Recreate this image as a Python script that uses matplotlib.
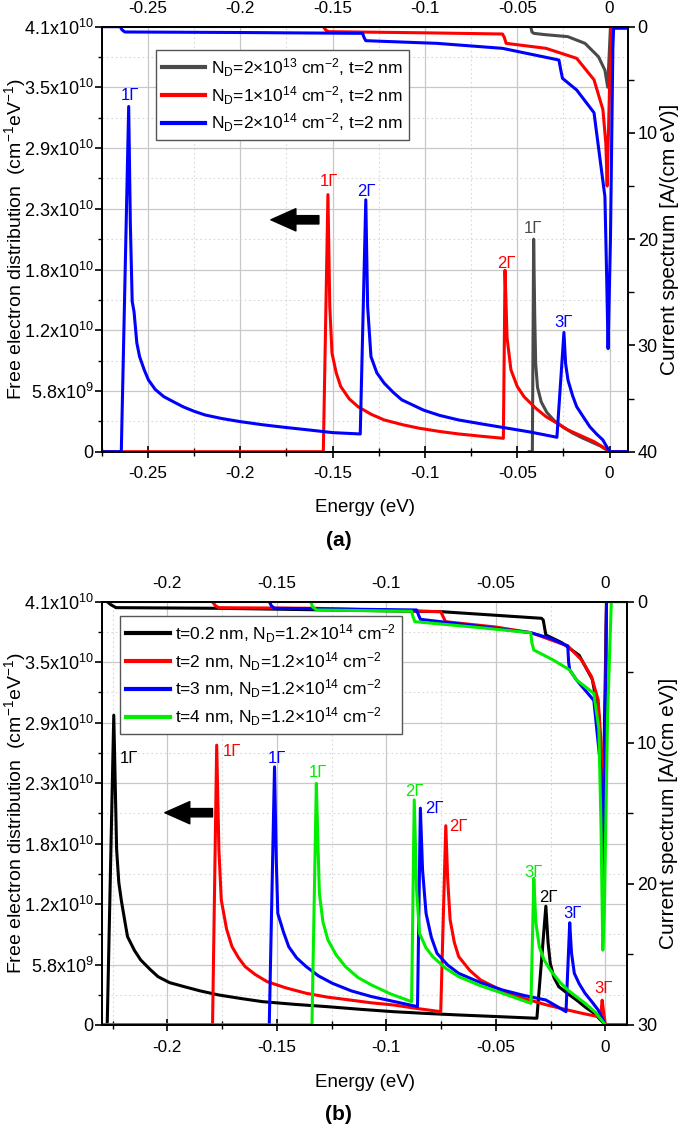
import numpy as np
import matplotlib
matplotlib.use('Agg')
import matplotlib.pyplot as plt
from matplotlib.ticker import MultipleLocator, FuncFormatter, FixedLocator

plt.rcParams['font.family'] = ['Liberation Sans', 'DejaVu Sans']
plt.rcParams['mathtext.fontset'] = 'custom'
plt.rcParams['mathtext.rm'] = 'Liberation Sans'
plt.rcParams['mathtext.it'] = 'Liberation Sans:italic'
plt.rcParams['axes.unicode_minus'] = False

# ---- panel (a): free electron distribution (units of 1e10 cm^-1 eV^-1) ----
a_gray_E = [-0.0435, -0.0418, -0.0411, -0.0405, -0.0400, -0.0390, -0.0370, -0.0340, -0.0300,
            -0.0250, -0.0200, -0.0150, -0.0100, -0.0050, 0.0, 0.01]
a_gray_n = [0, 0, 2.05, 1.3, 0.85, 0.62, 0.48, 0.38, 0.30, 0.235, 0.18, 0.135, 0.095, 0.055, 0, 0]

a_red_E = [-0.2750, -0.1550, -0.1525, -0.1515, -0.1503, -0.1480, -0.1456, -0.1410, -0.1362, -0.1290,
           -0.1220, -0.1120, -0.1030, -0.0920, -0.0817, -0.0700, -0.0575, -0.0566, -0.0555, -0.0534,
           -0.0500, -0.0463, -0.0400, -0.0344, -0.0280, -0.0225, -0.0150, -0.0084, -0.0040, 0.0, 0.01]
a_red_n = [0, 0, 2.48, 1.4, 0.95, 0.76, 0.63, 0.51, 0.434, 0.36,
           0.306, 0.26, 0.226, 0.195, 0.171, 0.15, 0.129, 1.75, 1.1, 0.79,
           0.63, 0.53, 0.42, 0.338, 0.27, 0.21, 0.15, 0.097, 0.05, 0, 0]

a_blue_E = [-0.2750, -0.2644, -0.2604, -0.2595, -0.2585, -0.2575, -0.2560, -0.2545, -0.2520, -0.2497,
            -0.2460, -0.2414, -0.2360, -0.2308, -0.2250, -0.2190, -0.2100, -0.2000, -0.1880, -0.1760,
            -0.1630, -0.1500, -0.1350, -0.1320, -0.1310, -0.1292, -0.1260, -0.1220, -0.1170, -0.1125,
            -0.1006, -0.0920, -0.0817, -0.0700, -0.0582, -0.0430, -0.0285, -0.0247, -0.0238, -0.0225,
            -0.0200, -0.0178, -0.0140, -0.0107, -0.0070, -0.0036, 0.0, 0.01]
a_blue_n = [0, 0, 3.33, 2.2, 1.45, 1.35, 1.05, 0.917, 0.79, 0.692,
            0.60, 0.531, 0.48, 0.432, 0.39, 0.354, 0.32, 0.29, 0.26, 0.235,
            0.21, 0.184, 0.171, 2.43, 1.4, 0.917, 0.76, 0.66, 0.57, 0.50,
            0.40, 0.35, 0.306, 0.27, 0.235, 0.19, 0.139, 1.15, 0.85, 0.69,
            0.54, 0.434, 0.33, 0.241, 0.17, 0.113, 0, 0]

# ---- panel (a): current spectrum (A/(cm eV)) ----
a_gray_cE = [-0.0427, -0.0420, -0.0410, -0.0350, -0.0226, -0.0133, -0.0060, -0.0025, -0.0010, 0.0005]
a_gray_c = [0, 0.5, 0.63, 0.75, 0.94, 1.57, 2.83, 4.1, 5.7, 0]

a_red_cE = [-0.1550, -0.1535, -0.1520, -0.1000, -0.0580, -0.0570, -0.0560, -0.0344, -0.0178, -0.0084,
            -0.0036, -0.0020, -0.0013, 0.0008]
a_red_c = [0, 0.35, 0.47, 0.58, 0.69, 1.0, 1.57, 2.04, 2.98, 5.0, 7.8, 11.0, 15.0, 0]

a_blue_cE = [-0.2750, -0.2650, -0.2640, -0.2625, -0.2000, -0.1337, -0.1330, -0.1320, -0.0935, -0.0580,
             -0.0274, -0.0265, -0.0255, -0.0178, -0.0084, -0.0073, -0.0025, -0.0015, -0.0008, 0.0005,
             0.0018, 0.0022, 0.0100]
a_blue_c = [0, 0, 0.3, 0.5, 0.55, 0.63, 1.0, 1.32, 1.57, 2.04,
            3.14, 4.0, 4.86, 5.96, 8.1, 9.6, 16.0, 24.0, 30.3, 20.0,
            2.0, 0.15, 0.15]

a_labels = ['N$_\\mathrm{D}$=2×10$^{13}$ cm$^{-2}$, t=2 nm',
            'N$_\\mathrm{D}$=1×10$^{14}$ cm$^{-2}$, t=2 nm',
            'N$_\\mathrm{D}$=2×10$^{14}$ cm$^{-2}$, t=2 nm']
a_peaks = [('1Γ', -0.2597, 3.44, 'blue'), ('1Γ', -0.1522, 2.61, 'red'), ('2Γ', -0.1319, 2.51, 'blue'),
           ('1Γ', -0.0414, 2.15, 'gray'), ('2Γ', -0.0556, 1.82, 'red'), ('3Γ', -0.0249, 1.245, 'blue')]

# ---- panel (b): free electron distribution ----
b_black_E = [-0.2300, -0.2275, -0.2245, -0.2232, -0.2222, -0.2210, -0.2190, -0.2182, -0.2150, -0.2122,
             -0.2080, -0.2043, -0.1990, -0.1923, -0.1850, -0.1764, -0.1660, -0.1566, -0.1420, -0.1267,
             -0.1120, -0.0969, -0.0820, -0.0670, -0.0500, -0.0313, -0.0272, -0.0262, -0.0252, -0.0235,
             -0.0213, -0.0170, -0.0132, -0.0090, -0.0053, 0.0, 0.01]
b_black_n = [0, 0, 3.0, 1.7, 1.38, 1.2, 0.95, 0.855, 0.72, 0.63,
             0.54, 0.468, 0.41, 0.371, 0.33, 0.29, 0.255, 0.226, 0.20, 0.177,
             0.152, 0.129, 0.112, 0.097, 0.082, 0.065, 1.15, 0.8, 0.598, 0.46,
             0.371, 0.30, 0.242, 0.17, 0.116, 0, 0]

b_red_E = [-0.2300, -0.1794, -0.1775, -0.1765, -0.1754, -0.1730, -0.1705, -0.1675, -0.1645, -0.1600,
           -0.1545, -0.1460, -0.1366, -0.1270, -0.1167, -0.1070, -0.0969, -0.0860, -0.0752, -0.0729,
           -0.0720, -0.0709, -0.0690, -0.0670, -0.0620, -0.0570, -0.0470, -0.0372, -0.0270, -0.0172,
           -0.0100, -0.0033, -0.0022, -0.0015, -0.0008, 0.0, 0.01]
b_red_n = [0, 0, 2.71, 1.7, 1.21, 0.93, 0.758, 0.65, 0.565, 0.49,
           0.42, 0.36, 0.307, 0.27, 0.242, 0.215, 0.194, 0.16, 0.129, 1.93,
           1.4, 1.017, 0.80, 0.662, 0.53, 0.436, 0.33, 0.258, 0.195, 0.145,
           0.11, 0.081, 0.075, 0.24, 0.12, 0, 0]

b_blue_E = [-0.2300, -0.1535, -0.1511, -0.1503, -0.1496, -0.1470, -0.1446, -0.1410, -0.1366, -0.1310,
            -0.1247, -0.1160, -0.1068, -0.0960, -0.0858, -0.0845, -0.0835, -0.0819, -0.0795, -0.0769,
            -0.0720, -0.0670, -0.0570, -0.0470, -0.0370, -0.0272, -0.0180, -0.0163, -0.0155, -0.0142,
            -0.0120, -0.0093, -0.0060, -0.0033, 0.0, 0.01]
b_blue_n = [0, 0, 2.50, 1.6, 1.08, 0.90, 0.758, 0.65, 0.565, 0.475,
            0.404, 0.33, 0.275, 0.225, 0.178, 2.10, 1.5, 1.08, 0.85, 0.694,
            0.58, 0.5, 0.41, 0.339, 0.285, 0.242, 0.129, 0.99, 0.7, 0.5,
            0.40, 0.307, 0.22, 0.145, 0, 0]

b_green_E = [-0.2300, -0.1340, -0.1320, -0.1312, -0.1306, -0.1290, -0.1267, -0.1230, -0.1187, -0.1130,
             -0.1068, -0.0980, -0.0885, -0.0873, -0.0862, -0.0849, -0.0820, -0.0789, -0.0730, -0.0670,
             -0.0570, -0.0470, -0.0340, -0.0327, -0.0318, -0.0302, -0.0280, -0.0252, -0.0210, -0.0172,
             -0.0130, -0.0093, -0.0045, 0.0, 0.01]
b_green_n = [0, 0, 2.34, 1.7, 1.275, 1.0, 0.823, 0.68, 0.565, 0.46,
             0.387, 0.30, 0.226, 2.18, 1.3, 0.888, 0.75, 0.662, 0.55, 0.468,
             0.38, 0.307, 0.21, 1.42, 1.0, 0.758, 0.63, 0.533, 0.42, 0.339,
             0.27, 0.21, 0.12, 0, 0]

# ---- panel (b): current spectrum ----
b_black_cE = [-0.2275, -0.2260, -0.2235, -0.1772, -0.0750, -0.0292, -0.0284, -0.0272, -0.0200, -0.0120,
              -0.0060, -0.0030, -0.0010, 0.0005]
b_black_c = [0, 0.2, 0.425, 0.47, 0.71, 1.18, 1.3, 2.36, 2.9, 3.8, 5.5, 8.0, 14.0, 0]

b_red_cE = [-0.1795, -0.1780, -0.1765, -0.1327, -0.0752, -0.0740, -0.0730, -0.0500, -0.0340, -0.0172,
            -0.0109, -0.0064, -0.0033, -0.0020, -0.0010, -0.0005, 0.0005]
b_red_c = [0, 0.3, 0.43, 0.47, 0.71, 1.1, 1.42, 1.8, 2.2, 3.14, 4.13, 5.3, 6.97, 10.0, 14.0, 16.2, 0]

b_blue_cE = [-0.1535, -0.1525, -0.1511, -0.0862, -0.0852, -0.0845, -0.0600, -0.0341, -0.0252, -0.0172,
             -0.0168, -0.0163, -0.0132, -0.0053, -0.0020, -0.0008, 0.0005]
b_blue_c = [0, 0.3, 0.47, 0.59, 1.0, 1.25, 1.7, 2.2, 2.6, 3.14, 4.3, 4.84, 5.55, 7.0, 12.0, 20.0, 0]

b_green_cE = [-0.1345, -0.1338, -0.1320, -0.0885, -0.0878, -0.0870, -0.0600, -0.0341, -0.0336, -0.0327,
              -0.0239, -0.0163, -0.0132, -0.0053, -0.0030, -0.0020, -0.0012, -0.0005, 0.0010, 0.0027, 0.0100]
b_green_c = [0, 0.35, 0.59, 0.68, 1.1, 1.42, 1.8, 2.2, 2.9, 3.43,
             4.13, 4.84, 5.55, 6.5, 9.0, 16.0, 24.7, 22.0, 8.0, 0, 0]

b_labels = ['t=0.2 nm, N$_\\mathrm{D}$=1.2×10$^{14}$ cm$^{-2}$',
            't=2 nm, N$_\\mathrm{D}$=1.2×10$^{14}$ cm$^{-2}$',
            't=3 nm, N$_\\mathrm{D}$=1.2×10$^{14}$ cm$^{-2}$',
            't=4 nm, N$_\\mathrm{D}$=1.2×10$^{14}$ cm$^{-2}$']
b_peaks = [('1Γ', -0.2178, 2.58, 'black'), ('1Γ', -0.1705, 2.65, 'red'), ('1Γ', -0.1502, 2.58, 'blue'),
           ('1Γ', -0.1311, 2.45, 'green'), ('2Γ', -0.0873, 2.26, 'green'), ('2Γ', -0.0781, 2.10, 'blue'),
           ('2Γ', -0.0670, 1.92, 'red'), ('3Γ', -0.0327, 1.48, 'green'), ('2Γ', -0.0262, 1.23, 'black'),
           ('3Γ', -0.0152, 1.08, 'blue'), ('3Γ', -0.0007, 0.355, 'red')]

a_xticks = [-0.25, -0.2, -0.15, -0.1, -0.05, 0]
b_xticks = [-0.2, -0.15, -0.1, -0.05, 0]
y_ticks = [0, 4.1 / 7, 2 * 4.1 / 7, 3 * 4.1 / 7, 4 * 4.1 / 7, 5 * 4.1 / 7, 6 * 4.1 / 7, 4.1]
y_ticklabels = ['0', '5.8x10$^{9}$', '1.2x10$^{10}$', '1.8x10$^{10}$', '2.3x10$^{10}$',
                '2.9x10$^{10}$', '3.5x10$^{10}$', '4.1x10$^{10}$']

colors = {'gray': '#4a4a4a', 'red': '#ff0000', 'blue': '#0000ff', 'green': '#00ee00', 'black': '#000000'}
LW = 2.2


def efmt(x, pos):
    s = '%.3f' % x
    s = s.rstrip('0').rstrip('.')
    if s in ('-0', '0', ''):
        s = '0'
    return s


def setup(ax, ax2, xlim, xticks, rmax, xlab_y):
    ax.set_xlim(xlim)
    ax.set_ylim(0, 4.1)
    ax.set_yticks(y_ticks)
    ax.set_yticklabels(y_ticklabels)
    ax.set_yticks([(y_ticks[i] + y_ticks[i + 1]) / 2 for i in range(7)], minor=True)
    ax.xaxis.set_major_locator(FixedLocator(xticks))
    ax.xaxis.set_minor_locator(MultipleLocator(0.025))
    ax.xaxis.set_major_formatter(FuncFormatter(efmt))
    ax.grid(which='major', color='#c8c8c8', lw=0.9, ls='-')
    ax.grid(which='minor', color='#d8d8d8', lw=0.8, ls=(0, (1.5, 2.5)))
    ax.set_axisbelow(True)
    ax.tick_params(axis='x', which='major', direction='inout', length=9, width=1.2,
                   labelsize=12.3, top=False, pad=6)
    ax.tick_params(axis='x', which='minor', direction='inout', length=6, width=1.0, top=False)
    ax.tick_params(axis='y', which='major', direction='out', length=5, width=1.2, labelsize=13, pad=1)
    ax.tick_params(axis='y', which='minor', direction='out', length=3, width=1.0)
    sec = ax.secondary_xaxis('top')
    sec.xaxis.set_major_locator(FixedLocator(xticks))
    sec.xaxis.set_minor_locator(FixedLocator([]))
    sec.xaxis.set_major_formatter(FuncFormatter(efmt))
    sec.tick_params(axis='x', which='both', length=0, labelsize=12.3, pad=8)
    sec.spines['top'].set_linewidth(1.3)
    ax2.set_ylim(rmax, 0)
    ax2.yaxis.set_major_locator(MultipleLocator(10))
    ax2.yaxis.set_minor_locator(MultipleLocator(5))
    ax2.tick_params(axis='y', which='major', direction='out', length=5, width=1.2, labelsize=13, pad=2)
    ax2.tick_params(axis='y', which='minor', direction='out', length=4, width=1.0)
    for a in (ax, ax2):
        for sp in a.spines.values():
            sp.set_linewidth(1.3)
    ax.set_xlabel('Energy (eV)', fontsize=13.5)
    ax.xaxis.set_label_coords(0.5, xlab_y)
    ax.set_ylabel('Free electron distribution  (cm$^{-1}$eV$^{-1}$)', fontsize=14)
    ax.yaxis.set_label_coords(-0.140, 0.5)
    ax2.set_ylabel('Current spectrum [A/(cm eV)]', fontsize=15, rotation=90)
    ax2.yaxis.set_label_coords(1.060, 0.5)


def arrow(ax, x0, x1, y):
    ax.annotate('', xy=(x0, y), xytext=(x1, y),
                arrowprops=dict(arrowstyle='simple,head_length=0.9,head_width=0.8,tail_width=0.3',
                                color='k', mutation_scale=20, shrinkA=0, shrinkB=0))


def legend(ax2, hs, labels, anchor):
    leg = ax2.legend(hs, labels, loc='upper left', bbox_to_anchor=anchor, borderaxespad=0,
                     fontsize=12.5, fancybox=False, edgecolor='#555555', framealpha=1,
                     handlelength=2.5, labelspacing=0.3, borderpad=0.35, handletextpad=0.3)
    leg.get_frame().set_linewidth(1.0)
    for l in leg.get_lines():
        l.set_linewidth(3)


fig = plt.figure(figsize=(6.85, 11.25), dpi=100)

# panel (a)
ax = fig.add_axes([0.1485, 0.5985, 0.7683, 0.3778])
ax2 = ax.twinx()
setup(ax, ax2, (-0.275, 0.01), a_xticks, 40, -0.111)
hs = []
for E, n, cE, c, col in [(a_gray_E, a_gray_n, a_gray_cE, a_gray_c, 'gray'),
                         (a_red_E, a_red_n, a_red_cE, a_red_c, 'red'),
                         (a_blue_E, a_blue_n, a_blue_cE, a_blue_c, 'blue')]:
    h, = ax.plot(E, n, color=colors[col], lw=LW)
    ax2.plot(cE, c, color=colors[col], lw=LW)
    hs.append(h)
for txt, x, y, col in a_peaks:
    ax.text(x, y, txt, color=colors[col], fontsize=12, ha='center', va='center')
arrow(ax, -0.1834, -0.1574, 2.237)
legend(ax2, hs, a_labels, (0.103, 0.945))
fig.text(0.4945, 1 - 541 / 1125, '(a)', fontsize=15, fontweight='bold', ha='center', va='center')

# panel (b)
bx = fig.add_axes([0.1485, 0.0889, 0.7673, 0.3763])
bx2 = bx.twinx()
setup(bx, bx2, (-0.23, 0.01), b_xticks, 30, -0.116)
hs = []
for E, n, cE, c, col in [(b_black_E, b_black_n, b_black_cE, b_black_c, 'black'),
                         (b_red_E, b_red_n, b_red_cE, b_red_c, 'red'),
                         (b_blue_E, b_blue_n, b_blue_cE, b_blue_c, 'blue'),
                         (b_green_E, b_green_n, b_green_cE, b_green_c, 'green')]:
    h, = bx.plot(E, n, color=colors[col], lw=LW)
    bx2.plot(cE, c, color=colors[col], lw=LW)
    hs.append(h)
for txt, x, y, col in b_peaks:
    bx.text(x, y, txt, color=colors[col], fontsize=12, ha='center', va='center')
arrow(bx, -0.2012, -0.1794, 2.056)
legend(bx2, hs, b_labels, (0.035, 0.966))
fig.text(0.4935, 1 - 1114 / 1125, '(b)', fontsize=15, fontweight='bold', ha='center', va='center')

fig.savefig('out.png', dpi=100)
